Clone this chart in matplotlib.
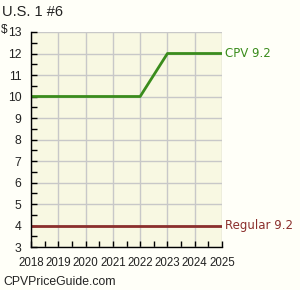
import numpy as np
import matplotlib
matplotlib.use('Agg')
import matplotlib.pyplot as plt
from matplotlib.ticker import MultipleLocator

years = [2018, 2019, 2020, 2021, 2022, 2023, 2024, 2025]
cpv_values = [10, 10, 10, 10, 10, 12, 12, 12]
regular_values = [4, 4, 4, 4, 4, 4, 4, 4]
cpv_label = 'CPV 9.2'
regular_label = 'Regular 9.2'
title = 'U.S. 1 #6'

green = '#3a8c1c'
red = '#8b2f2c'

fig = plt.figure(figsize=(3.0, 2.9), dpi=100, facecolor='#fffff8')
ax = fig.add_axes([31 / 300, 1 - 247 / 290, (222 - 31) / 300, (247 - 32) / 290])
ax.set_facecolor('#f8f8e2')

ax.plot(years, cpv_values, color=green, lw=2, solid_capstyle='butt')
ax.plot(years, regular_values, color=red, lw=2, solid_capstyle='butt')

ax.set_xlim(2018, 2025)
ax.set_ylim(3, 13)
ax.set_xticks(years)
ax.set_yticks(range(3, 14))
ax.yaxis.set_minor_locator(MultipleLocator(0.5))
ax.xaxis.set_minor_locator(MultipleLocator(0.5))
ax.grid(True, which='major', color='#c8c8c8', lw=1)
ax.set_axisbelow(True)
for s in ['top', 'right']:
    ax.spines[s].set_visible(False)
for s in ['left', 'bottom']:
    ax.spines[s].set_color('black')
    ax.spines[s].set_linewidth(1)
ax.tick_params(which='both', direction='in', length=4, width=1,
               colors='black', labelcolor='#222222')
ax.tick_params(axis='y', which='major', pad=7)
ax.tick_params(axis='x', which='major', pad=7)
for lab in ax.get_xticklabels():
    lab.set_fontfamily('Liberation Sans')
    lab.set_fontsize(8.3)
for lab in ax.get_yticklabels():
    lab.set_fontfamily('Liberation Sans')
    lab.set_fontsize(8.7)

ax.text(1.015, cpv_values[-1], cpv_label, transform=ax.get_yaxis_transform(),
        color=green, fontsize=8.5, va='center', ha='left')
ax.text(1.015, regular_values[-1], regular_label, transform=ax.get_yaxis_transform(),
        color=red, fontsize=8.5, va='center', ha='left')

fig.text(2 / 300, 1 - 12 / 290, title, fontsize=10.5, color='#222222', va='center',
         ha='left', family='Liberation Sans')
fig.text(1 / 300, 1 - 30 / 290, '$', fontsize=8.5, color='#222222', va='center',
         ha='left', family='Liberation Sans')
fig.text(3 / 300, 1 - 282 / 290, 'CPVPriceGuide.com', fontsize=8.8, color='#222222',
         va='center', ha='left', family='Liberation Sans')

fig.savefig('out.png', dpi=100, facecolor=fig.get_facecolor())
